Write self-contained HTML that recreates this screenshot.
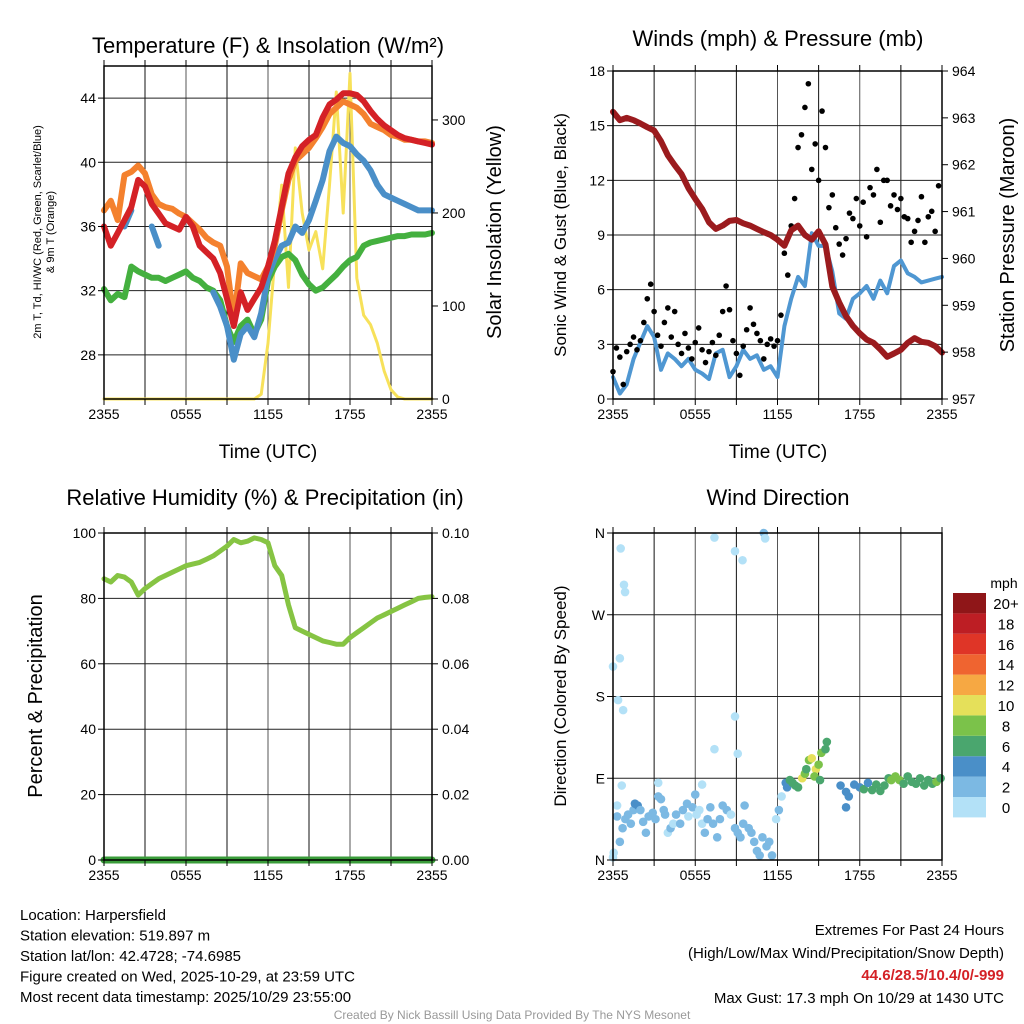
<!DOCTYPE html>
<html><head><meta charset="utf-8">
<style>
body{margin:0;background:#fff;}
svg{display:block;font-family:"Liberation Sans",Arial,sans-serif;}
</style></head>
<body>
<svg id="c" width="1024" height="1024" viewBox="0 0 1024 1024" xmlns="http://www.w3.org/2000/svg"></svg>
<script>
// ---------- DATA ----------
const xTickLabels = ["2355","0555","1155","1755","2355"];
const hours = [0,0.5,1,1.5,2,2.5,3,3.5,4,4.5,5,5.5,6,6.5,7,7.5,8,8.5,9,9.5,10,10.5,11,11.5,12,12.5,13,13.5,14,14.5,15,15.5,16,16.5,17,17.5,18,18.5,19,19.5,20,20.5,21,21.5,22,22.5,23,23.5,24];
const tempRed = [36,34.8,35.6,36.4,37.2,38.9,38.5,37.4,36.8,36.2,36,35.8,36.6,36,34.8,34.4,34,33.1,31.5,29.8,31.9,30.8,31.5,32.2,33.5,35.1,37.2,39.3,40.3,41,41.4,41.7,42.8,43.6,43.9,44.3,44.3,44.2,43.8,43.2,42.7,42.3,42,41.7,41.5,41.4,41.3,41.2,41.1];
const temp9m = [37,37.6,36.4,39.2,39.4,39.8,39.3,38,37.4,37.2,37.1,36.8,36.6,36.2,35.8,35.3,35,34.8,33.5,30.2,33.7,33.1,32.9,32.7,33.5,34.8,37,38.9,40.1,40.5,40.9,41.5,42.2,43,43.4,43.8,43.6,43.4,43,42.4,42.2,42,41.7,41.6,41.4,41.4,41.3,41.3,41.2];
const tempBlue = [null,null,null,36,37,null,null,36,34.8,null,null,null,null,null,null,null,31.9,31,29.8,27.7,29.3,29.8,29.1,30.6,32.9,34,34.8,35,36,35.6,36.4,37.6,38.9,40.7,41.6,41.2,41,40.5,40.1,39.5,38.6,38,37.8,37.6,37.4,37.2,37,37,37];
const tempGreen = [32.1,31.4,31.8,31.6,33.5,33.2,33,32.8,32.8,32.6,32.8,33,33.2,32.8,32.6,32.2,32,31.4,29.8,28.8,29.8,30.2,29.3,30.2,32.6,33.5,34.1,34.3,33.9,33,32.4,32,32.2,32.6,33,33.5,33.9,34.1,34.8,35,35.1,35.2,35.3,35.4,35.4,35.5,35.5,35.5,35.6];
const solar = [0,0,0,0,0,0,0,0,0,0,0,0,0,0,0,0,0,0,0,0,0,0,0,5,60,150,230,120,270,200,160,180,140,230,330,200,350,130,90,80,60,30,10,2,0,0,0,0,0];
const pressure = [963.13,962.95,963.0,962.95,962.88,962.8,962.73,962.5,962.2,961.99,961.8,961.5,961.27,961.06,960.77,960.63,960.7,960.8,960.82,960.75,960.7,960.63,960.56,960.5,960.4,960.27,960.6,960.7,960.5,960.4,960.58,960.3,959.4,959.06,958.77,958.56,958.4,958.27,958.2,958.06,957.9,957.97,958.05,958.2,958.3,958.22,958.2,958.13,957.99];
const windSpeed = [1.2,0.3,0.8,2.2,3.1,4,3.4,1.6,2.5,2.2,1.8,2.2,1.6,1.4,1.1,2.5,2.7,1.2,1.8,2.7,2.2,2.4,1.6,1.8,1.2,4,5.5,6.7,6.2,9.1,8.4,8.4,7,4.7,4.4,5.5,5.8,6.2,5.5,6.5,5.8,7.3,7.6,6.9,6.7,6.4,6.5,6.6,6.7];
const gust = [1.5,2.8,2.3,0.8, 2.6,3.0,3.4,2.7, 3.2,4.2,5.5,6.3, 4.8,3.5,2.9,4.2, 5.0,3.4,4.8,3.0, 2.5,3.6,2.8,2.2, 3.1,3.9,2.7,2.0, 2.6,3.1,2.4,3.5, 4.8,6.2,4.9,3.2, 2.5,1.3,2.9,3.8, 5.0,4.1,3.6,3.2, 2.2,3.0,3.3,2.9, 3.2,4.6,8.0,6.8, 9.5,11.0,13.8,14.5, 16.0,17.3,12.6,14.0, 12.0,15.8,13.8,10.5, 11.2,9.4,8.5,7.9, 8.8,10.2,9.9,11.0, 9.5,10.8,8.9,11.6, 11.2,12.6,9.7,12.0, 12.0,10.6,11.2,10.4, 11.0,10.0,9.9,8.6, 9.2,9.8,11.1,8.6, 10.0,10.3,9.2,11.7];
const rh = [86,85,87,86.5,85,81,83,84.5,86,87,88,89,90,90.5,91,92,93,94.5,96,98,97,97.5,98.5,98,97,90,87,78,71,70,69,68,67,66.5,66,66,68,69.5,71,72.5,74,75,76,77,78,79,80,80.3,80.5];
const precip = [0,0,0,0,0,0,0,0,0,0,0,0,0,0,0,0,0,0,0,0,0,0,0,0,0,0,0,0,0,0,0,0,0,0,0,0,0,0,0,0,0,0,0,0,0,0,0,0,0];
const dirHour = [0.0,0.05,0.3,0.3,0.5,0.7,0.9,1.1,1.3,1.5,1.6,1.8,2.0,2.2,2.4,2.6,2.9,3.1,3.3,3.5,3.7,3.8,4.0,4.2,4.4,4.6,4.9,5.1,5.4,5.5,5.8,6.0,6.1,6.3,6.5,6.7,6.9,7.1,7.3,7.6,7.8,8.0,8.3,8.6,8.9,9.1,9.3,9.5,9.6,9.9,10.1,10.3,10.5,10.7,10.9,11.2,11.4,11.6,11.9,12.1,12.3,12.6,12.7,12.9,13.1,13.3,13.5,13.8,14.0,14.1,14.3,14.5,14.8,14.7,15.0,15.2,15.5,15.6,15.1,16.6,17.0,17.2,17.0,17.6,18.0,18.3,18.6,18.9,19.2,19.5,19.8,20.1,20.3,20.6,20.9,21.2,21.5,21.8,22.1,22.4,22.7,23.0,23.3,23.6,23.9,0.56,0.8,0.88,0.5,0.0,0.37,0.74,0.64,7.4,8.9,9.45,11.0,11.1,8.9,7.4,9.1,3.3,6.5];
const dirDeg = [3,8,60,48,20,35,45,50,40,55,62,60,55,42,30,48,52,45,70,67,55,50,30,35,40,50,40,55,62,48,58,72,50,55,40,30,45,58,40,25,45,60,55,50,35,30,25,40,60,35,30,20,10,5,25,15,20,5,45,55,70,85,80,88,85,82,80,90,95,100,110,112,100,92,105,118,122,130,88,82,75,70,58,83,80,78,85,77,83,76,82,90,88,92,88,84,92,86,84,90,82,88,84,86,90,343,303,295,222,213,176,165,82,355,340,330,360,354,158,122,117,85,83];
const dirSpd = [1,1,1,3,3,3,2,3,2.5,3,4.2,4.5,3,2,3,2.5,3,3,3,2.5,2.6,3,1,2,1,3,2,2,3,1,3,3,1,1,1,2,3,2,3,3,2,2,3,1,3,3,2,3,2,3,3,2,3,2,3,3,2,2,1,2,1,4,4,6,6,6,7,10,9,7,8,11,10,8,9,8,7,7,6,4,4,5,4,5,4,6,5,6,6,6,7,6,8,8,8,7,7,6,7,6,7,6,6,8,6,0,0,0,0,1,0,0,1,0,1,1,3,0,1,0,1,1,1];
const speedBins = ["0","2","4","6","8","10","12","14","16","18","20+"];
const speedColors = ["#b3e1f7","#7cb9e3","#4a8fc8","#4aa66e","#7bc24a","#e5e05a","#f6a843","#ef6430","#df3527","#bd1e24","#8f1618"];

// ---------- HELPERS ----------
const NS="http://www.w3.org/2000/svg";
const svg=document.getElementById('c');
function el(tag,attrs,parent,text){const e=document.createElementNS(NS,tag);for(const k in attrs)e.setAttribute(k,attrs[k]);if(text!==undefined)e.textContent=text;(parent||svg).appendChild(e);return e;}
function txt(x,y,s,size,opts,name){opts=opts||{};const a={x:x,y:y,'font-size':size,'text-anchor':opts.anchor||'middle',fill:opts.fill||'#000'};if(opts.rot)a.transform=`rotate(${opts.rot} ${x} ${y})`;if(opts.weight)a['font-weight']=opts.weight;const t=el('text',a,svg,s);return t;}

function panel(name,x0,x1,y0,y1,yTicksL,yMinL,yMaxL,fmtL,yTicksR,yMinR,yMaxR,fmtR){
  const g=el('g',{});
  
  
  const sx=h=>x0+(x1-x0)*h/24;
  const syL=v=>y1-(y1-y0)*(v-yMinL)/(yMaxL-yMinL);
  const syR=v=>y1-(y1-y0)*(v-yMinR)/(yMaxR-yMinR);
  for(let h=3;h<24;h+=3){const l=el('line',{x1:sx(h),x2:sx(h),y1:y0,y2:y1,stroke:(h%6==0)?'#555':'#111','stroke-width':1},g);}
  yTicksL.forEach(v=>{const y=syL(v);if(y>y0+1&&y<y1-1){const l=el('line',{x1:x0,x2:x1,y1:y,y2:y,stroke:'#222','stroke-width':1},g);}});
  return {g,sx,syL,syR,finish:function(){
    const fr=el('rect',{x:x0,y:y0,width:x1-x0,height:y1-y0,fill:'none',stroke:'#000','stroke-width':1.5},svg);
    
    for(let h=0;h<=24;h+=3){el('line',{x1:sx(h),x2:sx(h),y1:y1,y2:y1+6,stroke:'#000'},svg);el('line',{x1:sx(h),x2:sx(h),y1:y0,y2:y0-6,stroke:'#000'},svg);}
    xTickLabels.forEach((s,i)=>txt(sx(i*6),y1+20,s,14,{},'x-tick-label'));
    yTicksL.forEach(v=>{const y=syL(v);el('line',{x1:x0-6,x2:x0,y1:y,y2:y,stroke:'#000'},svg);txt(x0-8,y+5,fmtL(v),14,{anchor:'end'},'y-tick-label-left');});
    if(yTicksR) yTicksR.forEach(v=>{const y=syR(v);el('line',{x1:x1,x2:x1+6,y1:y,y2:y,stroke:'#000'},svg);txt(x1+10,y+5,fmtR(v),14,{anchor:'start'},'y-tick-label-right');});
  }};
}
function line(p,xs,ys,sy,color,w,name){
  let d='',pen=false;
  xs.forEach((h,i)=>{const v=ys[i];if(v===null||v===undefined){pen=false;return;}d+=(pen?'L':'M')+p.sx(h).toFixed(1)+' '+sy(v).toFixed(1);pen=true;});
  const path=el('path',{d:d,fill:'none',stroke:color,'stroke-width':w,'stroke-linejoin':'round','stroke-linecap':'round'},p.g);
  
  
}

// ---------- PANEL 1 ----------
const p1=panel('temperature-panel',104,432,66,399,[28,32,36,40,44],25.25,46,v=>v,[0,100,200,300],0,358,v=>v);
line(p1,hours,solar,p1.syR,'#f7e15a',3,'solar-insolation-line');
line(p1,hours,tempGreen,p1.syL,'#44b03f',6,'dewpoint-line');
line(p1,hours,tempBlue,p1.syL,'#4a8fc8',6,'windchill-line');
line(p1,hours,temp9m,p1.syL,'#f4812e',6,'temp-9m-line');
line(p1,hours,tempRed,p1.syL,'#d42126',6,'temp-2m-line');
p1.finish();
txt(268,53,'Temperature (F) & Insolation (W/m²)',22,{},'temperature-title');
txt(268,458,'Time (UTC)',19,{},'x-axis-title');
txt(41,232,'2m T, Td, HI/WC (Red, Green, Scarlet/Blue)',11,{rot:-90},'left-axis-title');
txt(54,232,'& 9m T (Orange)',11,{rot:-90},'left-axis-title-line2');
txt(501,232,'Solar Insolation (Yellow)',20,{rot:-90},'right-axis-title');

// ---------- PANEL 2 ----------
const p2=panel('winds-panel',613,942,71,399,[0,3,6,9,12,15,18],0,18,v=>v,[957,958,959,960,961,962,963,964],957,964,v=>v);
line(p2,hours,windSpeed,p2.syL,'#4f97d2',4,'wind-speed-line');
gust.forEach((v,i)=>{const c=el('circle',{cx:p2.sx(i*0.25),cy:p2.syL(v),r:2.8,fill:'#000'},p2.g);
  
  });
line(p2,hours,pressure,p2.syR,'#9b1b1e',6,'pressure-line');
p2.finish();
txt(778,46,'Winds (mph) & Pressure (mb)',22,{},'winds-title');
txt(778,458,'Time (UTC)',19,{},'x-axis-title-2');
txt(566,235,'Sonic Wind & Gust (Blue, Black)',17,{rot:-90},'wind-axis-title');
txt(1014,235,'Station Pressure (Maroon)',20,{rot:-90},'pressure-axis-title');

// ---------- PANEL 3 ----------
const p3=panel('humidity-panel',104,432,533,860,[0,20,40,60,80,100],0,100,v=>v,[0,0.02,0.04,0.06,0.08,0.10],0,0.10,v=>v.toFixed(2));
line(p3,hours,rh,p3.syL,'#86c443',5,'humidity-line');
line(p3,hours,precip,p3.syR,'#3a9c3a',7,'precipitation-line');
p3.finish();
txt(265,505,'Relative Humidity (%) & Precipitation (in)',22,{},'humidity-title');
txt(42,696,'Percent & Precipitation',20,{rot:-90},'humidity-axis-title');

// ---------- PANEL 4 ----------
const dirLabels=["N","E","S","W","N"];
const p4=panel('direction-panel',613,942,533,860,[0,90,180,270,360],0,360,v=>dirLabels[v/90],null,0,1,null);
dirHour.forEach((h,i)=>{const s=dirSpd[i];const bin=Math.min(10,Math.floor(s/2));
  const c=el('circle',{cx:p4.sx(h),cy:p4.syL(dirDeg[i]),r:4.3,fill:speedColors[bin]},p4.g);
  
  });
p4.finish();
txt(778,505,'Wind Direction',22,{},'direction-title');
txt(566,696,'Direction (Colored By Speed)',17,{rot:-90},'direction-axis-title');
txt(1004,588,'mph',14,{},'colorbar-title');
speedBins.forEach((s,i)=>{const y=797-i*20.4;
  const r=el('rect',{x:953,y:y,width:33,height:20.4,fill:speedColors[i]});
  
  
  txt(1006,y+16,s,15,{},'colorbar-label');});

// ---------- FOOTER ----------
const foot=["Location: Harpersfield","Station elevation: 519.897 m","Station lat/lon: 42.4728; -74.6985","Figure created on Wed, 2025-10-29, at 23:59 UTC","Most recent data timestamp: 2025/10/29 23:55:00"];
foot.forEach((s,i)=>txt(20,920+i*20.5,s,15,{anchor:'start'},'station-info-line'));
txt(1004,935,'Extremes For Past 24 Hours',15,{anchor:'end'},'extremes-title');
txt(1004,958,'(High/Low/Max Wind/Precipitation/Snow Depth)',15,{anchor:'end'},'extremes-subtitle');
txt(1004,980,'44.6/28.5/10.4/0/-999',15,{anchor:'end',fill:'#d42126',weight:'bold'},'extremes-values');
txt(1004,1003,'Max Gust: 17.3 mph On 10/29 at 1430 UTC',15,{anchor:'end'},'max-gust');
txt(512,1019,'Created By Nick Bassill Using Data Provided By The NYS Mesonet',12,{fill:'#999'},'credit-line');
</script>
</body></html>
